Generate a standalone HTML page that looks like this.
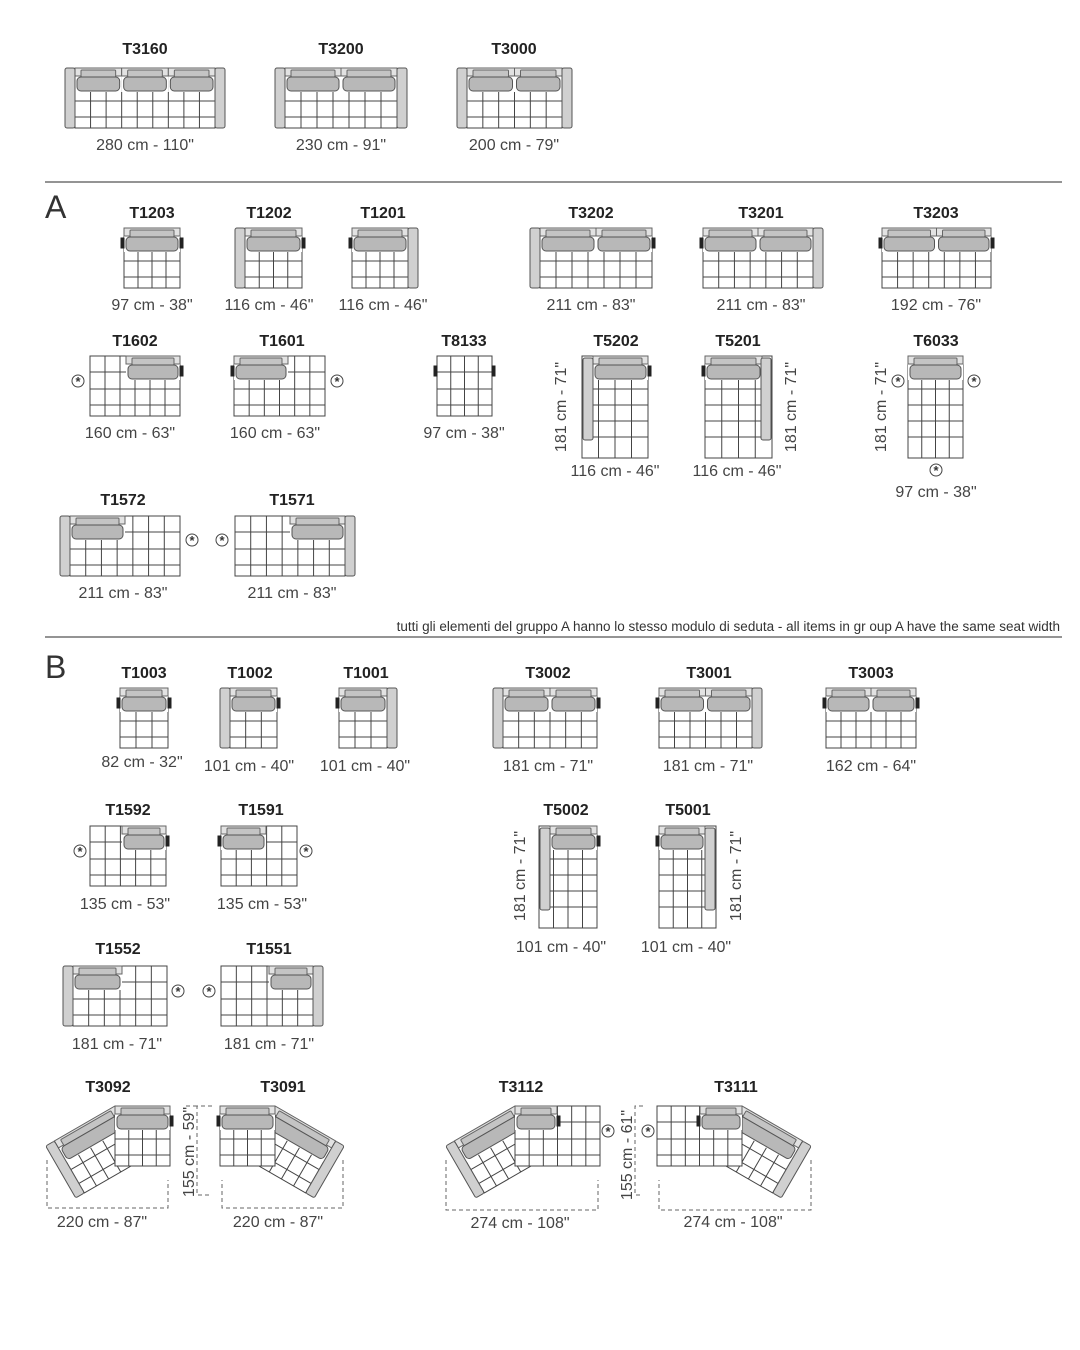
<!DOCTYPE html>
<html><head><meta charset="utf-8"><style>
html,body{margin:0;padding:0;background:#fff;}
svg{display:block}
text{font-family:"Liberation Sans Narrow","Liberation Sans",sans-serif;}
.t{font-size:16px;font-weight:bold;fill:#222;text-anchor:middle}
.d{font-size:16px;fill:#444;text-anchor:middle}
</style></head><body>
<svg id="s" width="1080" height="1350" viewBox="0 0 1080 1350" xmlns="http://www.w3.org/2000/svg">
<line x1="45" y1="182" x2="1062" y2="182" stroke="#555" stroke-width="1.2"/>
<line x1="45" y1="637" x2="1062" y2="637" stroke="#555" stroke-width="1.2"/>
<text x="45" y="218" style="font-size:32px;fill:#333">A</text>
<text x="45" y="678" style="font-size:32px;fill:#333">B</text>
<text x="1060" y="631" style="font-size:13.5px;fill:#333;text-anchor:end">tutti gli elementi  del gruppo A hanno lo stesso modulo di  seduta  -  all items in gr oup A have the same seat width</text>
<g id="g"></g>
</svg>
<script>
var G=document.getElementById('g'),out='';
function R(x,y,w,h,f,st,rx){return '<rect x="'+x+'" y="'+y+'" width="'+w+'" height="'+h+'" fill="'+f+'" stroke="'+(st||'#555')+'" stroke-width="1" rx="'+(rx||0)+'"/>';}
function L(a,b,c,d,s){return '<line x1="'+a+'" y1="'+b+'" x2="'+c+'" y2="'+d+'" stroke="'+(s||'#444')+'" stroke-width="1"/>';}
function grid(x,y,w,h){var s='',n=Math.max(1,Math.round(w/15)),dx=w/n;for(var i=1;i<n;i++)s+=L(x+i*dx,y,x+i*dx,y+h);
 var hy=[];for(var k=16;k<h-6;k+=(k==16?17:16))hy.push(k);hy.forEach(function(k){s+=L(x,y+k,x+w,y+k);});return s;}
function seat(x0,x1,y){var s='';s+=R(x0,y,x1-x0,24,'#fff','none');s+=R(x0,y,x1-x0,8,'#e2e2e2','#666');
 s+=R(x0+6,y+2,x1-x0-12,7,'#c4c4c4','#666',1);s+=R(x0+2,y+9,x1-x0-4,14,'#b8b8b8','#555',4);return s;}
// sofa: x,y,w,h, la, ra ('arm','stub',0), seats [[x0,x1]...], varm 'l'|'r'
function sofa(x,y,w,h,la,ra,seats,varm){var s='',bx=x,bw=w;
 if(la=='arm'){bx+=10;bw-=10;}if(ra=='arm'){bw-=10;}
 s+=R(bx,y,bw,h,'#fff','#444');s+=grid(bx,y,bw,h);
 if(seats){seats.forEach(function(p){s+=seat(p[0],p[1],y);});}
 if(la=='arm')s+=R(x,y,10,h,'#d0d0d0','#555',2);
 if(ra=='arm')s+=R(x+w-10,y,10,h,'#d0d0d0','#555',2);
 if(la=='stub')s+=R(bx-3,y+10,3,10,'#222','#222');
 if(ra=='stub')s+=R(bx+bw,y+10,3,10,'#222','#222');
 if(varm=='l'){s+=R(bx+1,y+2,10,82,'#d0d0d0','#555',2);}
 if(varm=='r'){s+=R(bx+bw-11,y+2,10,82,'#d0d0d0','#555',2);}
 return s;}
function split(a,b,n){var r=[],d=(b-a)/n;for(var i=0;i<n;i++)r.push([a+i*d,a+(i+1)*d]);return r;}
function T(x,y,t){return '<text class="t" x="'+x+'" y="'+y+'">'+t+'</text>';}
function D(x,y,t){return '<text class="d" x="'+x+'" y="'+y+'">'+t+'</text>';}
function V(x,y,t){return '<text class="d" transform="translate('+x+','+y+') rotate(-90)" x="0" y="0">'+t+'</text>';}
function A(x,y){return '<circle cx="'+x+'" cy="'+y+'" r="6" fill="#fff" stroke="#444"/><text x="'+x+'" y="'+(y+5)+'" style="font-size:13px;fill:#333;text-anchor:middle;font-weight:bold">*</text>';}
// top row
out+=sofa(65,68,160,60,'arm','arm',split(75,215,3));out+=T(145,54,'T3160')+D(145,150,'280 cm - 110"');
out+=sofa(275,68,132,60,'arm','arm',split(285,397,2));out+=T(341,54,'T3200')+D(341,150,'230 cm - 91"');
out+=sofa(457,68,115,60,'arm','arm',split(467,562,2));out+=T(514,54,'T3000')+D(514,150,'200 cm - 79"');
// A1
out+=sofa(124,228,56,60,'stub','stub',[[124,180]]);out+=T(152,218,'T1203')+D(152,310,'97 cm - 38"');
out+=sofa(235,228,67,60,'arm','stub',[[245,302]]);out+=T(269,218,'T1202')+D(269,310,'116 cm - 46"');
out+=sofa(352,228,66,60,'stub','arm',[[352,408]]);out+=T(383,218,'T1201')+D(383,310,'116 cm - 46"');
out+=sofa(530,228,122,60,'arm','stub',split(540,652,2));out+=T(591,218,'T3202')+D(591,310,'211 cm - 83"');
out+=sofa(703,228,120,60,'stub','arm',split(703,813,2));out+=T(761,218,'T3201')+D(761,310,'211 cm - 83"');
out+=sofa(882,228,109,60,'stub','stub',split(882,991,2));out+=T(936,218,'T3203')+D(936,310,'192 cm - 76"');
// A2
out+=sofa(90,356,90,60,0,'stub',[[126,180]]);out+=A(78,381);out+=T(135,346,'T1602')+D(130,438,'160 cm - 63"');
out+=sofa(234,356,91,60,'stub',0,[[234,288]]);out+=A(337,381);out+=T(282,346,'T1601')+D(275,438,'160 cm - 63"');
out+=sofa(437,356,55,60,'stub','stub',null);out+=T(464,346,'T8133')+D(464,438,'97 cm - 38"');
out+=sofa(582,356,66,102,0,'stub',[[593,648]],'l');out+=T(616,346,'T5202')+D(615,476,'116 cm - 46"')+V(566,407,'181 cm - 71"');
out+=sofa(705,356,67,102,'stub',0,[[705,762]],'r');out+=T(738,346,'T5201')+D(737,476,'116 cm - 46"')+V(796,407,'181 cm - 71"');
out+=sofa(908,356,55,102,0,0,[[908,963]]);out+=A(898,381)+A(974,381)+A(936,470);out+=T(936,346,'T6033')+D(936,497,'97 cm - 38"')+V(886,407,'181 cm - 71"');
// A3
out+=sofa(60,516,120,60,'arm',0,[[70,125]]);out+=A(192,540);out+=T(123,505,'T1572')+D(123,598,'211 cm - 83"');
out+=sofa(235,516,120,60,0,'arm',[[290,345]]);out+=A(222,540);out+=T(292,505,'T1571')+D(292,598,'211 cm - 83"');
// B1
out+=sofa(120,688,48,60,'stub','stub',[[120,168]]);out+=T(144,678,'T1003')+D(142,767,'82 cm - 32"');
out+=sofa(220,688,57,60,'arm','stub',[[230,277]]);out+=T(250,678,'T1002')+D(249,771,'101 cm - 40"');
out+=sofa(339,688,58,60,'stub','arm',[[339,387]]);out+=T(366,678,'T1001')+D(365,771,'101 cm - 40"');
out+=sofa(493,688,104,60,'arm','stub',split(503,597,2));out+=T(548,678,'T3002')+D(548,771,'181 cm - 71"');
out+=sofa(659,688,103,60,'stub','arm',split(659,752,2));out+=T(709,678,'T3001')+D(708,771,'181 cm - 71"');
out+=sofa(826,688,90,60,'stub','stub',split(826,916,2));out+=T(871,678,'T3003')+D(871,771,'162 cm - 64"');
// B2
out+=sofa(90,826,76,60,0,'stub',[[122,166]]);out+=A(80,851);out+=T(128,815,'T1592')+D(125,909,'135 cm - 53"');
out+=sofa(221,826,76,60,'stub',0,[[221,266]]);out+=A(306,851);out+=T(261,815,'T1591')+D(262,909,'135 cm - 53"');
out+=sofa(539,826,58,102,0,'stub',[[550,597]],'l');out+=T(566,815,'T5002')+D(561,952,'101 cm - 40"')+V(525,876,'181 cm - 71"');
out+=sofa(659,826,57,102,'stub',0,[[659,705]],'r');out+=T(688,815,'T5001')+D(686,952,'101 cm - 40"')+V(741,876,'181 cm - 71"');
// B3
out+=sofa(63,966,104,60,'arm',0,[[73,122]]);out+=A(178,991);out+=T(118,954,'T1552')+D(117,1049,'181 cm - 71"');
out+=sofa(221,966,102,60,0,'arm',[[269,313]]);out+=A(209,991);out+=T(269,954,'T1551')+D(269,1049,'181 cm - 71"');
// corners
function corner(sx,sw,cw){ // straight from sx, width sw, seat width cw
 var s=sofa(sx,1106,sw,60,0,0,[[sx,sx+cw]]);
 s+=R(sx+cw,1116,3,10,'#222','#222');
 var Lm=80;var m='<g transform="translate('+sx+',1106) rotate(-30)">';
 m+=R(-Lm+10,0,Lm-10,60,'#fff','#444')+grid(-Lm+10,0,Lm-10,60)+seat(-Lm+10,0,0);
 m+=R(-Lm,0,10,60,'#d0d0d0','#555',2)+'</g>';
 return m+s;}
var dash='stroke="#666" stroke-width="1" stroke-dasharray="4,3" fill="none"';
var c1=corner(115,55,55)+'<polyline points="47,1160 47,1208 168,1208 168,1180" '+dash+'/>';
out+=c1+'<g transform="translate(390,0) scale(-1,1)">'+c1+'</g>';
out+='<polyline points="212,1106 197,1106 197,1195 212,1195" '+dash+'/>';
out+='<polyline points="186,1106 197,1106" '+dash+'/>';
out+=V(194,1152,'155 cm - 59"')+T(108,1092,'T3092')+T(283,1092,'T3091')+D(102,1227,'220 cm - 87"')+D(278,1227,'220 cm - 87"');
var c2=corner(515,85,42)+'<polyline points="446,1160 446,1210 598,1210 598,1180" '+dash+'/>';
out+=c2+'<g transform="translate(1257,0) scale(-1,1)">'+c2+'</g>';
out+='<polyline points="643,1106 635,1106 635,1195 643,1195" '+dash+'/>';
out+=A(608,1131)+A(648,1131)+V(632,1155,'155 cm - 61"')+T(521,1092,'T3112')+T(736,1092,'T3111')+D(520,1228,'274 cm - 108"')+D(733,1227,'274 cm - 108"');
G.innerHTML=out;
</script>
</body></html>
